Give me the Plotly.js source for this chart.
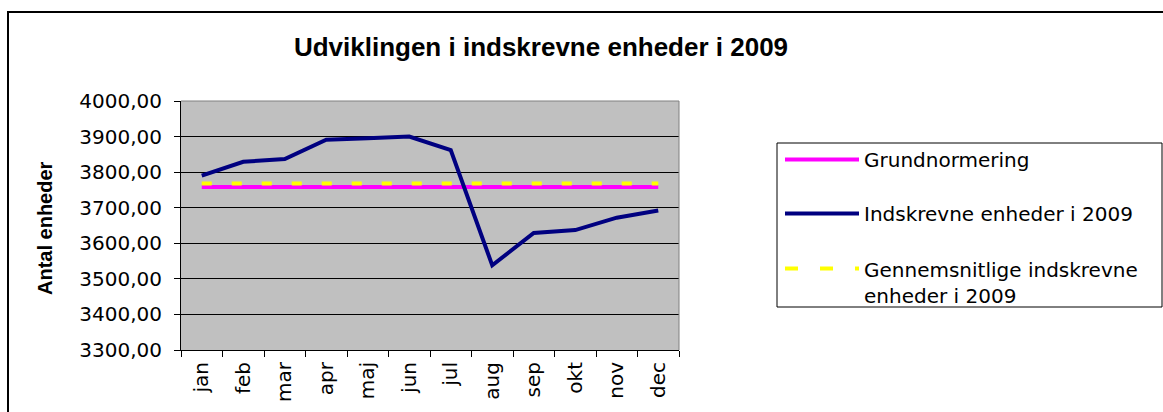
<!DOCTYPE html>
<html>
<head>
<meta charset="utf-8">
<script src="https://cdn.plot.ly/plotly-3.0.1.min.js"></script>
<style>
  html, body { margin: 0; padding: 0; background: #ffffff; }
  #chart { width: 1163px; height: 412px; }
</style>
</head>
<body>
<div id="chart"></div>
<script>
// ---- Data ----
const months = ['jan','feb','mar','apr','maj','jun','jul','aug','sep','okt','nov','dec'];
const indskrevne = [3790, 3829, 3837, 3891, 3895, 3900, 3862, 3538, 3629, 3637, 3672, 3692];
const grundnormering = [3758, 3758, 3758, 3758, 3758, 3758, 3758, 3758, 3758, 3758, 3758, 3758];
const gennemsnit = [3768, 3768, 3768, 3768, 3768, 3768, 3768, 3768, 3768, 3768, 3768, 3768];
const seriesNames = ['Grundnormering', 'Indskrevne enheder i 2009', 'Gennemsnitlige indskrevne<br>enheder i 2009'];
const chartTitle = 'Udviklingen i indskrevne enheder i 2009';
const yTitle = 'Antal enheder';

// ---- Layout geometry (pixels) ----
const W = 1163, H = 412;
const M = { l: 181, r: 484, t: 101, b: 62 };
const PW = W - M.l - M.r, PH = H - M.t - M.b;
const px = x => (x - M.l) / PW;          // pixel x -> paper x
const py = y => (H - M.b - y) / PH;      // pixel y -> paper y

const magenta = '#FF00FF', navy = '#000080', yellow = '#FFFF00';

const traces = [
  { x: months, y: grundnormering, type: 'scatter', mode: 'lines', name: 'Grundnormering',
    line: { color: magenta, width: 4 }, showlegend: false, hoverinfo: 'skip' },
  { x: months, y: gennemsnit, type: 'scatter', mode: 'lines', name: 'Gennemsnitlige indskrevne enheder i 2009',
    line: { color: yellow, width: 4, dash: '10px,20px' }, showlegend: false, hoverinfo: 'skip' },
  { x: months, y: indskrevne, type: 'scatter', mode: 'lines', name: 'Indskrevne enheder i 2009',
    line: { color: navy, width: 4 }, showlegend: false, hoverinfo: 'skip' }
];

const yTickFont = { family: 'DejaVu Sans', size: 20, color: '#000' };
const xTickFont = { family: 'DejaVu Sans', size: 20, color: '#000' };
const legFont = { family: 'DejaVu Sans', size: 20, color: '#000' };

// custom legend (matching the long line samples of the original)
const legX0 = px(777), legX1 = px(1162), legY0 = py(307), legY1 = py(143);
const sampleX0 = px(785), sampleX1 = px(859), textX = px(862);
const itemY = [py(159.5), py(213.5), py(268.5)];
const legendColors = [magenta, navy, yellow];

const shapes = [
  // outer chart border
  { type: 'rect', xref: 'paper', yref: 'paper', x0: px(8), x1: px(1185), y0: py(430), y1: py(12),
    line: { color: '#000', width: 2 }, fillcolor: 'rgba(0,0,0,0)', layer: 'above' },
  // plot-area top and right edges
  { type: 'line', xref: 'paper', yref: 'paper', x0: 0, x1: 1, y0: 1, y1: 1, line: { color: '#808080', width: 1 } },
  { type: 'line', xref: 'paper', yref: 'paper', x0: 1, x1: 1, y0: 0, y1: 1, line: { color: '#808080', width: 1 } },
  // legend box
  { type: 'rect', xref: 'paper', yref: 'paper', x0: legX0, x1: legX1, y0: legY0, y1: legY1,
    line: { color: '#000', width: 1 }, fillcolor: '#ffffff', layer: 'above' }
];
legendColors.forEach((c, i) => {
  shapes.push({ type: 'line', xref: 'paper', yref: 'paper', x0: sampleX0, x1: sampleX1, y0: itemY[i], y1: itemY[i],
    line: { color: c, width: 4, dash: i === 2 ? '13px,22px' : 'solid' }, layer: 'above' });
});

const annotations = [
  { xref: 'paper', yref: 'paper', x: px(45), y: py(228), text: '<b>' + yTitle + '</b>', textangle: -90,
    showarrow: false, xanchor: 'center', yanchor: 'middle',
    font: { family: 'Liberation Sans', size: 20, color: '#000' } }
];
seriesNames.forEach((n, i) => {
  annotations.push({ xref: 'paper', yref: 'paper', x: textX, y: i === 2 ? py(256) : itemY[i],
    text: n, showarrow: false, xanchor: 'left', yanchor: i === 2 ? 'top' : 'middle', align: 'left',
    font: legFont });
});

const layout = {
  width: W, height: H,
  margin: M,
  paper_bgcolor: '#ffffff',
  plot_bgcolor: '#C0C0C0',
  separators: ',.',
  showlegend: false,
  title: { text: '<b>' + chartTitle + '</b>', xref: 'container', yref: 'container', x: 541 / W, y: 1 - 47 / H,
    xanchor: 'center', yanchor: 'middle',
    font: { family: 'Liberation Sans', size: 26, color: '#000' } },
  xaxis: {
    type: 'category', range: [-0.5, 11.5], tickangle: -90, tickfont: xTickFont,
    showline: true, linecolor: '#000', linewidth: 1,
    ticks: 'outside', ticklen: 6, tickcolor: '#000', tickson: 'boundaries', ticklabelstandoff: 3,
    showgrid: false, zeroline: false, fixedrange: true
  },
  yaxis: {
    range: [3300, 4000], dtick: 100, tick0: 3300, tickformat: '.2f', tickfont: yTickFont,
    showline: true, linecolor: '#000', linewidth: 1,
    ticks: 'outside', ticklen: 6, tickcolor: '#000', ticklabelstandoff: 8,
    showgrid: true, gridcolor: '#000', gridwidth: 1, zeroline: false, fixedrange: true
  },
  shapes: shapes,
  annotations: annotations
};

Plotly.newPlot('chart', traces, layout, { staticPlot: true, displayModeBar: false });
</script>
</body>
</html>
